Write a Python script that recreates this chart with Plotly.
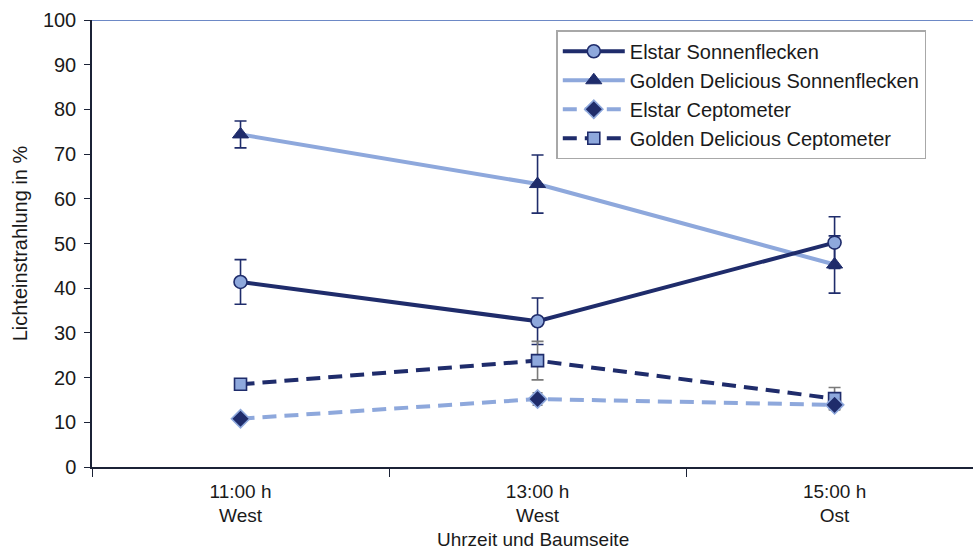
import plotly.graph_objects as go

# Categories (time of day / tree side)
categories = ["11:00 h<br>West", "13:00 h<br>West", "15:00 h<br>Ost"]

# Light interception in % with standard errors
elstar_sun = [41.4, 32.6, 50.2]
elstar_sun_err = [5.0, 5.2, 5.8]
golden_sun = [74.4, 63.3, 45.3]
golden_sun_err = [3.0, 6.5, 6.4]
elstar_cept = [10.8, 15.2, 13.9]
elstar_cept_err = [0.8, 1.4, 1.2]
golden_cept = [18.5, 23.8, 15.3]
golden_cept_err = [0.8, 4.3, 2.5]

NAVY = "#1f2c6b"
LIGHT = "#8ea8dc"
GREY = "#7a7a7a"
FONT = "Liberation Sans, Arial, sans-serif"

fig = go.Figure()

# Golden Delicious sunflecks (drawn first so the Elstar line lies above it)
fig.add_trace(go.Scatter(
    x=categories, y=golden_sun, name="Golden Delicious Sonnenflecken",
    mode="lines+markers", legendrank=2,
    line=dict(color=LIGHT, width=4),
    marker=dict(symbol="triangle-up", size=14, color=NAVY, line=dict(color=NAVY, width=1)),
    error_y=dict(type="data", array=golden_sun_err, color=NAVY, thickness=1.6, width=6),
))

fig.add_trace(go.Scatter(
    x=categories, y=elstar_sun, name="Elstar Sonnenflecken",
    mode="lines+markers", legendrank=1,
    line=dict(color=NAVY, width=4),
    marker=dict(symbol="circle", size=13, color=LIGHT, line=dict(color=NAVY, width=1.6)),
    error_y=dict(type="data", array=elstar_sun_err, color=NAVY, thickness=1.6, width=6),
))

fig.add_trace(go.Scatter(
    x=categories, y=golden_cept, name="Golden Delicious Ceptometer",
    mode="lines+markers", legendrank=4,
    line=dict(color=NAVY, width=4, dash="14px,8px"),
    marker=dict(symbol="square", size=12, color=LIGHT, line=dict(color=NAVY, width=1.6)),
    error_y=dict(type="data", array=golden_cept_err, color=GREY, thickness=1.6, width=6),
))

fig.add_trace(go.Scatter(
    x=categories, y=elstar_cept, name="Elstar Ceptometer",
    mode="lines+markers", legendrank=3,
    line=dict(color=LIGHT, width=4, dash="14px,8px"),
    marker=dict(symbol="diamond", size=14, color=NAVY, line=dict(color=LIGHT, width=1.6)),
    error_y=dict(type="data", array=elstar_cept_err, color=GREY, thickness=1.4, width=5),
))

# Blue frame line along the top of the plot area
fig.add_shape(type="line", xref="paper", yref="y", x0=0, x1=1, y0=100, y1=100,
              line=dict(color="#3d62b3", width=1.5))

# x-axis title placed below the two-line category labels
fig.add_annotation(text="Uhrzeit und Baumseite", xref="paper", yref="paper",
                   x=0.5, y=-0.163, xanchor="center", yanchor="middle",
                   showarrow=False, font=dict(family=FONT, size=19, color="#1a1a1a"))

fig.update_layout(
    width=973, height=550,
    margin=dict(l=92, r=0, t=20, b=83),
    paper_bgcolor="white", plot_bgcolor="white",
    font=dict(family=FONT, size=20, color="#1a1a1a"),
    showlegend=True,
    legend=dict(
        x=0.527, y=0.977, xanchor="left", yanchor="top",
        bgcolor="white", bordercolor="#a8a8a8", borderwidth=1.5,
        font=dict(family=FONT, size=20, color="#1a1a1a"),
        itemwidth=62, tracegroupgap=0,
    ),
    xaxis=dict(
        type="category", range=[-0.5, 2.466],
        showgrid=False, zeroline=False,
        showline=True, linecolor="#1b2236", linewidth=1.5,
        ticks="outside", tickson="boundaries", ticklen=8, tickcolor="#1b2236",
        tickfont=dict(size=19), ticklabelstandoff=6,
    ),
    yaxis=dict(
        range=[0, 100], dtick=10,
        showgrid=False, zeroline=False,
        showline=True, linecolor="#1b2236", linewidth=1.5,
        ticks="outside", ticklen=6, tickcolor="#1b2236",
        tickfont=dict(size=20), ticklabelstandoff=4,
        title=dict(text="Lichteinstrahlung in %", font=dict(size=20), standoff=10),
    ),
)

fig.write_html("out.html")
